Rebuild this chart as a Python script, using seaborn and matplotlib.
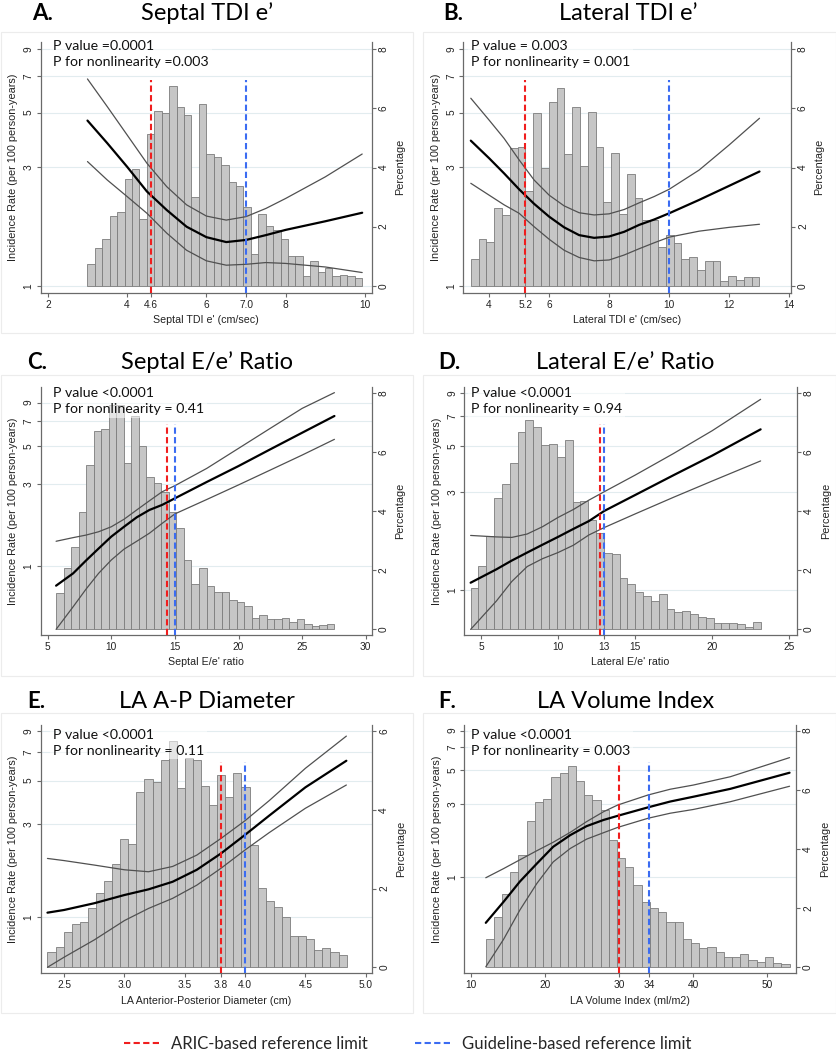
import numpy as np
import pandas as pd
import matplotlib.pyplot as plt
import matplotlib.ticker as ticker
from matplotlib.patches import Rectangle
import seaborn as sns

RED = '#f01e1e'
BLUE = '#3b6cf2'

# ---- values ----
# histograms: percentage in each of 37 equal-width bins, plus first / last bin edge
A_PCT = [0.73, 1.26, 1.58, 2.37, 2.48, 3.61, 3.94, 2.26, 5.14, 5.93, 5.84, 6.77, 6.04, 5.78, 2.99, 6.15, 4.45,
         4.37, 4.09, 3.51, 3.37, 2.67, 1.06, 2.42, 2.03, 1.88, 1.57, 1.02, 1.02, 0.34, 0.84, 0.47, 0.59, 0.34,
         0.36, 0.34, 0.25]
A_BINS = (3.0, 9.93)
B_PCT = [0.89, 1.57, 1.47, 2.62, 2.39, 4.65, 4.68, 3.21, 5.84, 4.0, 6.23, 6.68, 4.45, 6.04, 4.06, 5.89, 4.68,
         2.83, 4.48, 2.42, 3.78, 2.96, 2.22, 2.22, 1.32, 1.72, 1.43, 0.89, 0.96, 0.52, 0.84, 0.84, 0.17, 0.34,
         0.19, 0.30, 0.30]
B_BINS = (3.39, 13.01)
C_PCT = [1.24, 2.06, 2.79, 3.98, 5.55, 6.70, 6.76, 7.58, 7.58, 5.63, 7.21, 6.21, 5.14, 4.94, 4.63, 3.98, 3.41,
         2.34, 1.55, 2.08, 1.46, 1.27, 1.27, 0.99, 0.91, 0.80, 0.37, 0.48, 0.34, 0.34, 0.37, 0.24, 0.34, 0.18,
         0.11, 0.15, 0.18]
C_BINS = (5.66, 27.54)
D_PCT = [1.39, 2.16, 3.17, 4.44, 4.93, 5.63, 6.68, 7.10, 6.87, 6.25, 6.28, 5.85, 6.42, 4.31, 4.36, 3.71, 3.28,
         2.58, 2.54, 1.73, 1.54, 1.25, 1.14, 0.96, 1.21, 0.69, 0.60, 0.63, 0.52, 0.41, 0.37, 0.23, 0.23, 0.23,
         0.17, 0.09, 0.24]
D_BINS = (4.33, 23.14)
E_PCT = [0.40, 0.51, 0.89, 1.10, 1.16, 1.50, 1.88, 2.19, 2.61, 3.25, 3.12, 4.45, 4.77, 4.71, 5.26, 5.75, 4.56,
         5.30, 5.26, 4.60, 4.12, 4.88, 4.33, 4.92, 4.58, 3.10, 2.02, 1.69, 1.54, 1.28, 0.80, 0.80, 0.71, 0.44,
         0.48, 0.38, 0.31]
E_BINS = (2.362, 4.842)
F_PCT = [0.95, 1.71, 2.47, 3.21, 3.80, 4.95, 5.58, 5.69, 6.42, 6.56, 6.82, 6.30, 5.83, 5.66, 5.32, 4.31, 3.68,
         3.38, 2.78, 2.20, 1.99, 1.86, 1.52, 1.52, 0.96, 0.81, 0.64, 0.70, 0.53, 0.34, 0.36, 0.45, 0.25, 0.19,
         0.34, 0.14, 0.11]
F_BINS = (11.98, 53.0)

# spline fits: incidence rate per 100 person-years (estimate, lower and upper 95% CI)
A_X = [3.0, 3.5, 4.0, 4.5, 5.0, 5.5, 6.0, 6.5, 7.0, 7.5, 8.0, 9.0, 9.93]
A_FIT = [4.64, 3.76, 3.02, 2.40, 2.02, 1.73, 1.57, 1.50, 1.53, 1.60, 1.68, 1.82, 1.97]
A_LO = [3.17, 2.67, 2.29, 1.96, 1.63, 1.39, 1.26, 1.21, 1.22, 1.24, 1.23, 1.19, 1.13]
A_HI = [6.83, 5.28, 4.06, 3.12, 2.51, 2.12, 1.91, 1.84, 1.90, 2.05, 2.25, 2.75, 3.40]

B_X = [3.39, 4.0, 4.5, 5.0, 5.5, 6.0, 6.5, 7.0, 7.5, 8.0, 8.5, 9.0, 9.5, 10.0, 11.0, 12.0, 13.01]
B_FIT = [3.85, 3.27, 2.84, 2.45, 2.14, 1.90, 1.72, 1.60, 1.56, 1.58, 1.65, 1.76, 1.85, 1.96, 2.22, 2.53, 2.89]
B_LO = [2.59, 2.32, 2.12, 1.96, 1.73, 1.54, 1.39, 1.30, 1.26, 1.27, 1.33, 1.41, 1.49, 1.57, 1.66, 1.72, 1.77]
B_HI = [5.71, 4.66, 3.93, 3.22, 2.67, 2.32, 2.10, 1.97, 1.93, 1.95, 2.03, 2.16, 2.29, 2.45, 2.93, 3.70, 4.74]

C_X = [5.66, 7, 8, 9, 10, 11, 12, 13, 14, 15, 17.5, 20, 22.5, 25, 27.54]
C_FIT = [0.764, 0.902, 1.07, 1.26, 1.48, 1.69, 1.92, 2.12, 2.27, 2.48, 3.09, 3.83, 4.80, 6.00, 7.52]
C_LO = [0.424, 0.575, 0.727, 0.902, 1.08, 1.25, 1.39, 1.55, 1.77, 2.01, 2.44, 2.97, 3.63, 4.44, 5.49]
C_HI = [1.39, 1.46, 1.51, 1.58, 1.69, 1.87, 2.12, 2.40, 2.71, 2.94, 3.71, 4.86, 6.37, 8.33, 10.3]

D_X = [4.33, 6, 7, 8, 9, 10, 11, 12, 13, 15, 17.5, 20, 23.14]
D_FIT = [1.085, 1.26, 1.39, 1.52, 1.66, 1.81, 1.98, 2.16, 2.42, 2.89, 3.61, 4.49, 6.02]
D_LO = [0.644, 0.884, 1.10, 1.30, 1.42, 1.52, 1.65, 1.85, 2.01, 2.34, 2.82, 3.38, 4.23]
D_HI = [1.84, 1.81, 1.80, 1.87, 2.03, 2.25, 2.46, 2.73, 3.00, 3.61, 4.60, 5.93, 8.42]

E_X = [2.362, 2.5, 2.75, 3.0, 3.2, 3.4, 3.6, 3.8, 4.0, 4.2, 4.5, 4.84]
E_FIT = [1.056, 1.09, 1.18, 1.30, 1.39, 1.52, 1.75, 2.12, 2.64, 3.31, 4.62, 6.32]
E_LO = [0.555, 0.625, 0.766, 0.962, 1.11, 1.25, 1.46, 1.78, 2.21, 2.71, 3.61, 4.75]
E_HI = [2.00, 1.95, 1.85, 1.75, 1.71, 1.82, 2.08, 2.53, 3.12, 3.95, 5.78, 8.45]

F_X = [12, 14.4, 16.6, 18.9, 21.1, 23.4, 25.6, 27.9, 29.8, 33.9, 36.9, 40, 45, 53]
F_FIT = [0.50, 0.686, 0.93, 1.22, 1.57, 1.87, 2.14, 2.35, 2.50, 2.84, 3.10, 3.33, 3.75, 4.78]
F_LO = [0.258, 0.39, 0.606, 0.905, 1.25, 1.53, 1.76, 1.94, 2.10, 2.41, 2.60, 2.75, 3.09, 3.90]
F_HI = [0.985, 1.13, 1.29, 1.48, 1.68, 1.95, 2.29, 2.66, 2.94, 3.42, 3.73, 3.97, 4.50, 6.00]

# reference limits (ARIC-based, guideline-based)
A_REF = (4.6, 7.0)
B_REF = (5.2, 10.0)
C_REF = (14.4, 15.0)
D_REF = (12.7, 13.0)
E_REF = (3.8, 4.0)
F_REF = (30, 34)

A_TICKS = ([2, 4, 4.6, 6, 7.0, 8, 10], ['2', '4', '4.6', '6', '7.0', '8', '10'])
B_TICKS = ([4, 5.2, 6, 8, 10, 12, 14], ['4', '5.2', '6', '8', '10', '12', '14'])
C_TICKS = ([5, 10, 15, 20, 25, 30], ['5', '10', '15', '20', '25', '30'])
D_TICKS = ([5, 10, 13, 15, 20, 25], ['5', '10', '13', '15', '20', '25'])
E_TICKS = ([2.5, 3.0, 3.5, 3.8, 4.0, 4.5, 5.0], ['2.5', '3.0', '3.5', '3.8', '4.0', '4.5', '5.0'])
F_TICKS = ([10, 20, 30, 34, 40, 50], ['10', '20', '30', '34', '40', '50'])

sns.set_theme(style='white')
plt.rcParams['font.family'] = ['Liberation Sans', 'DejaVu Sans']
TITLE_FONT = ['Lato', 'DejaVu Sans']

fig = plt.figure(figsize=(8.37, 10.5), dpi=100)
W, H = 837.0, 1050.0


def px_rect(left, top, right, bottom):
    return [left / W, 1 - bottom / H, (right - left) / W, (bottom - top) / H]


def draw_panel(rect, pct, bins, xs, fit, lo, hi, refs, xlim, xticks, log_lim, pct_lim, pct_ticks,
               xlabel, ptext, text_xy):
    # base axis: log incidence rate, left ticks + grid
    ax = fig.add_axes(rect)
    ax.set_yscale('log')
    ax.set_xlim(xlim)
    ax.set_ylim(log_lim)
    ax.set_yticks([1, 3, 5, 7, 9])
    ax.set_yticklabels(['1', '3', '5', '7', '9'], rotation=90, va='center')
    ax.yaxis.set_minor_locator(ticker.NullLocator())
    ax.set_xticks(xticks[0])
    ax.set_xticklabels(xticks[1])
    ax.yaxis.grid(True, color='#e2ecef', lw=0.8)
    ax.xaxis.grid(False)
    ax.spines['top'].set_visible(False)
    for s in ['left', 'bottom', 'right']:
        ax.spines[s].set_color('#6a6a6a')
        ax.spines[s].set_linewidth(0.9)
    ax.tick_params(axis='both', direction='out', length=3, width=0.8, color='#6a6a6a',
                   labelsize=7.3, labelcolor='#222222', pad=2, left=True, bottom=True)
    ax.set_ylabel('Incidence Rate (per 100 person-years)', fontsize=7.8, color='#222222')
    ax.yaxis.set_label_coords(-0.068, 0.5)
    ax.set_xlabel(xlabel, fontsize=7.7, color='#222222')
    ax.xaxis.set_label_coords(0.5, -0.09)

    # histogram axis: percentage on the right
    ax_pct = ax.twinx()
    edges = list(np.linspace(bins[0], bins[1], len(pct) + 1))
    hist_df = pd.DataFrame({'value': [(a + b) / 2 for a, b in zip(edges[:-1], edges[1:])], 'pct': pct})
    sns.histplot(data=hist_df, x='value', weights='pct', bins=edges, ax=ax_pct, color='#c6c6c6',
                 edgecolor='#7c7c7c', linewidth=0.6, alpha=1)
    ax_pct.set_xlim(xlim)
    ax_pct.set_ylim(pct_lim)
    ax_pct.set_yticks(pct_ticks)
    ax_pct.set_yticklabels([str(t) for t in pct_ticks], rotation=90, va='center')
    for s in ax_pct.spines.values():
        s.set_visible(False)
    ax_pct.tick_params(axis='y', direction='out', length=3, width=0.8, color='#6a6a6a',
                       labelsize=7.3, labelcolor='#222222', pad=2, right=True)
    ax_pct.set_ylabel('Percentage', fontsize=7.8, color='#222222')
    ax_pct.yaxis.set_label_coords(1.072, 0.5)

    # top axis: spline fit and reference lines
    ax_fit = fig.add_axes(rect, sharex=ax, sharey=ax)
    ax_fit.patch.set_visible(False)
    sns.lineplot(x=xs, y=hi, ax=ax_fit, color='#505050', linewidth=0.9, estimator=None, sort=False)
    sns.lineplot(x=xs, y=lo, ax=ax_fit, color='#505050', linewidth=0.9, estimator=None, sort=False)
    sns.lineplot(x=xs, y=fit, ax=ax_fit, color='black', linewidth=1.6, estimator=None, sort=False)
    l_red = ax_fit.axvline(refs[0], ymax=0.85, color=RED, lw=1.5, ls=(0, (3, 1.6)))
    l_blue = ax_fit.axvline(refs[1], ymax=0.85, color=BLUE, lw=1.5, ls=(0, (3, 1.6)))
    ax_fit.set_xlim(xlim)
    ax_fit.set_ylim(log_lim)
    ax_fit.set_axis_off()
    ax_fit.text(text_xy[0], text_xy[1], ptext, transform=ax_fit.transAxes, fontsize=10.2,
                family=TITLE_FONT, color='#111111', ha='left', va='center', linespacing=1.4,
                bbox=dict(boxstyle='square,pad=0.2', fc='white', ec='none', alpha=0.55))
    return l_red, l_blue


def panel_frame(left, top, right, bottom):
    fig.add_artist(Rectangle((left / W, 1 - bottom / H), (right - left) / W, (bottom - top) / H,
                             transform=fig.transFigure, fill=False, ec='#ececec', lw=0.8))


for fr in [(1, 32, 413, 333), (423, 32, 836, 333), (1, 375, 413, 676), (423, 375, 836, 676),
           (1, 713, 413, 1013), (423, 713, 836, 1013)]:
    panel_frame(*fr)

draw_panel(px_rect(40.7, 42, 371.7, 292.7), A_PCT, A_BINS, A_X, A_FIT, A_LO, A_HI, A_REF,
           (1.82, 10.17), A_TICKS, (0.937, 9.63), (-0.237, 8.25), [0, 2, 4, 6, 8],
           "Septal TDI e' (cm/sec)", 'P value =0.0001\nP for nonlinearity =0.003', (0.038, 0.951))
draw_panel(px_rect(463.3, 42, 791, 292.7), B_PCT, B_BINS, B_X, B_FIT, B_LO, B_HI, B_REF,
           (3.14, 14.06), B_TICKS, (0.937, 9.63), (-0.237, 8.25), [0, 2, 4, 6, 8],
           "Lateral TDI e' (cm/sec)", 'P value = 0.003\nP for nonlinearity = 0.001', (0.024, 0.951))
draw_panel(px_rect(40.7, 387.3, 371.7, 635), C_PCT, C_BINS, C_X, C_FIT, C_LO, C_HI, C_REF,
           (4.45, 30.47), C_TICKS, (0.393, 11.07), (-0.19, 8.18), [0, 2, 4, 6, 8],
           "Septal E/e' ratio", 'P value <0.0001\nP for nonlinearity = 0.41', (0.038, 0.9455))
draw_panel(px_rect(464.3, 387.3, 796.7, 635), D_PCT, D_BINS, D_X, D_FIT, D_LO, D_HI, D_REF,
           (3.92, 25.48), D_TICKS, (0.605, 9.63), (-0.193, 8.20), [0, 2, 4, 6, 8],
           "Lateral E/e' ratio", 'P value <0.0001\nP for nonlinearity = 0.94', (0.020, 0.9455))
draw_panel(px_rect(40.7, 725, 372.3, 973.3), E_PCT, E_BINS, E_X, E_FIT, E_LO, E_HI, E_REF,
           (2.306, 5.055), E_TICKS, (0.517, 9.63), (-0.152, 6.15), [0, 2, 4, 6],
           'LA Anterior-Posterior Diameter (cm)', 'P value <0.0001\nP for nonlinearity = 0.11', (0.038, 0.9295))
l_red, l_blue = draw_panel(px_rect(464.3, 725, 796, 973.3), F_PCT, F_BINS, F_X, F_FIT, F_LO, F_HI, F_REF,
                           (9.1, 53.87), F_TICKS, (0.234, 9.8), (-0.2, 8.19), [0, 2, 4, 6, 8],
                           'LA Volume Index (ml/m2)', 'P value <0.0001\nP for nonlinearity = 0.003', (0.020, 0.9295))

# panel titles
titles = [('A.', 'Septal TDI e\u2019', 32, 207, 13), ('B.', 'Lateral TDI e\u2019', 443, 628, 13),
          ('C.', 'Septal E/e\u2019 Ratio', 27, 207, 362), ('D.', 'Lateral E/e\u2019 Ratio', 438, 625, 362),
          ('E.', 'LA A-P Diameter', 27, 207, 702), ('F.', 'LA Volume Index', 438, 626, 702)]
for letter, name, lx, cx, cy in titles:
    fig.text(lx / W, 1 - cy / H, letter, fontsize=16, fontweight='bold', family=TITLE_FONT,
             ha='left', va='center', color='black')
    fig.text(cx / W, 1 - cy / H, name, fontsize=17, family=TITLE_FONT, ha='center', va='center', color='black')

fig.legend([l_red, l_blue], ['ARIC-based reference limit', 'Guideline-based reference limit'],
           loc='center', bbox_to_anchor=(407.5 / W, 1 - 1044 / H), ncol=2, frameon=False,
           prop={'family': TITLE_FONT, 'size': 12}, handlelength=2.3, handletextpad=0.55,
           columnspacing=2.8)

fig.savefig('out.png', dpi=100)
